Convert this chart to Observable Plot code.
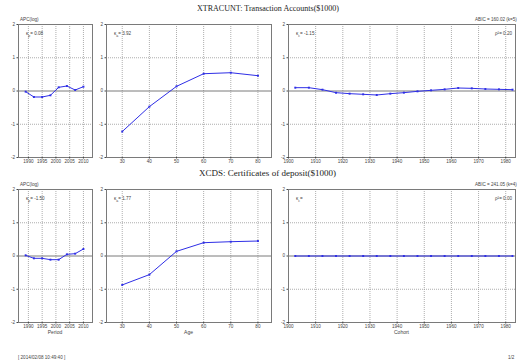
<!DOCTYPE html>
<html>
<head>
<meta charset="utf-8">
<script src="https://cdn.jsdelivr.net/npm/d3@7"></script>
<script src="https://cdn.jsdelivr.net/npm/@observablehq/plot@0.6"></script>
<style>
  html, body { margin: 0; padding: 0; background: #fff; }
  #root { position: relative; width: 517px; height: 364px; overflow: hidden; font-family: "Liberation Sans", Arial, sans-serif; color: #333; }
  .abs { position: absolute; white-space: nowrap; line-height: 1; }
  .title { font-family: "Liberation Serif", "DejaVu Serif", serif; font-size: 9px; color: #222; transform-origin: 0 50%; }
  .small { font-size: 4.6px; color: #444; }
  .lab { font-size: 5px; color: #444; transform: translateX(-50%); }
  .abs svg { display: block; }
</style>
</head>
<body>
<div id="root"></div>
<script>
// ---- data ----
const titles = ["XTRACUNT: Transaction Accounts($1000)", "XCDS: Certificates of deposit($1000)"];
const periods = [1989, 1992, 1995, 1998, 2001, 2004, 2007, 2010];
const ages = [30, 40, 50, 60, 70, 80];
const cohorts = [1902.5, 1907.5, 1912.5, 1917.5, 1922.5, 1927.5, 1932.5, 1937.5, 1942.5, 1947.5, 1952.5, 1957.5, 1962.5, 1967.5, 1972.5, 1977.5, 1982.5];

const periodA = [-0.02, -0.18, -0.18, -0.13, 0.11, 0.15, 0.03, 0.13];
const ageA = [-1.22, -0.47, 0.14, 0.52, 0.55, 0.46];
const cohortA = [0.10, 0.10, 0.04, -0.05, -0.08, -0.10, -0.12, -0.08, -0.05, -0.01, 0.02, 0.05, 0.09, 0.08, 0.06, 0.05, 0.04];

const periodB = [0.02, -0.07, -0.07, -0.11, -0.11, 0.05, 0.07, 0.21];
const ageB = [-0.87, -0.56, 0.14, 0.40, 0.43, 0.45];
const cohortB = [0, 0, 0, 0, 0, 0, 0, 0, 0, 0, 0, 0, 0, 0, 0, 0, 0];

const periodTicks = [1990, 1995, 2000, 2005, 2010];
const ageTicks = [30, 40, 50, 60, 70, 80];
const cohortTicks = [1900, 1910, 1920, 1930, 1940, 1950, 1960, 1970, 1980];
const yTicks = [-2, -1, 0, 1, 2];

const kappaA = ["κ_p = 0.08", "κ_a = 3.92", "κ_c = -1.15"];
const kappaB = ["κ_p = -1.50", "κ_a = 1.77", "κ_c ="];
const abic = ["ABIC = 160.02 (k=5)", "ABIC = 241.05 (k=4)"];
const rho = ["ρ²= 0.20", "ρ²= 0.00"];
const xLabels = ["Period", "Age", "Cohort"];

// ---- layout ----
const root = document.getElementById("root");
const BLUE = "#2f2fe6";
const frames = [ {l: 18, r: 92}, {l: 106, r: 271}, {l: 288, r: 515} ];
const rowsY = [ {t: 24, b: 157}, {t: 189, b: 322} ];
const domains = [ [1986.4, 2013.3], [24.2, 85.0], [1900, 1983.6] ];
const xTickSets = [periodTicks, ageTicks, cohortTicks];
const titleSpan = [ [197, 339], [199, 336] ];

function put(cls, text, x, y) {
  const d = document.createElement("div");
  d.className = "abs " + cls;
  d.textContent = text;
  d.style.left = x + "px";
  d.style.top = y + "px";
  root.appendChild(d);
  return d;
}

function kappa(text, x, y) {
  const m = text.match(/^κ_(\w)\s*(.*)$/);
  const d = document.createElement("div");
  d.className = "abs small";
  d.style.left = x + "px";
  d.style.top = y + "px";
  d.innerHTML = "κ<sub style='font-size:3.5px'>" + m[1] + "</sub>" + m[2].replace("=", "= ");
  root.appendChild(d);
}

function panel(xs, ys, fr, row, domain, ticks) {
  const mL = 14, mR = 2, mT = 2, mB = 12;
  const w = fr.r - fr.l, h = row.b - row.t;
  const data = xs.map((x, i) => ({x, y: ys[i]}));
  const grid = ticks.filter(t => t > domain[0] + 0.5 && t < domain[1] - 0.5);
  const chart = Plot.plot({
    width: w + mL + mR,
    height: h + mT + mB,
    marginLeft: mL, marginRight: mR, marginTop: mT, marginBottom: mB,
    style: {fontSize: "4.6px", fontFamily: "Liberation Sans, sans-serif", background: "transparent", color: "#444", overflow: "visible"},
    x: {domain, label: null},
    y: {domain: [-2, 2], label: null},
    marks: [
      Plot.gridX(grid, {stroke: "#999", strokeOpacity: 1, strokeWidth: 0.8, strokeDasharray: "1,1"}),
      Plot.gridY([-1, 1], {stroke: "#999", strokeOpacity: 1, strokeWidth: 0.8, strokeDasharray: "1,1"}),
      Plot.ruleY([0], {stroke: "#7a7a7a", strokeWidth: 1}),
      Plot.frame({stroke: "#7a7a7a", strokeWidth: 1}),
      Plot.axisX(ticks, {tickSize: 1.5, tickPadding: 1, fontSize: 4.6, label: null, tickFormat: d => String(d)}),
      Plot.axisY(yTicks, {tickSize: 1.5, tickPadding: 2, fontSize: 4.6, label: null, tickFormat: d => String(d)}),
      Plot.line(data, {x: "x", y: "y", stroke: BLUE, strokeWidth: 1}),
      Plot.dot(data, {x: "x", y: "y", symbol: "square", r: 1.1, fill: BLUE, stroke: "none"})
    ]
  });
  const wrap = document.createElement("div");
  wrap.className = "abs";
  wrap.style.left = (fr.l - mL) + "px";
  wrap.style.top = (row.t - mT) + "px";
  wrap.appendChild(chart);
  root.appendChild(wrap);
}

const seriesRows = [ [periodA, ageA, cohortA], [periodB, ageB, cohortB] ];
const xsAll = [periods, ages, cohorts];
const kappas = [kappaA, kappaB];

rowsY.forEach((row, r) => {
  const t = put("title", titles[r], titleSpan[r][0], row.t - 20);
  const wNat = t.getBoundingClientRect().width;
  t.style.transform = "scaleX(" + ((titleSpan[r][1] - titleSpan[r][0]) / wNat) + ")";
  put("small", "APC(log)", 20, row.t - 6);
  put("small", abic[r], 475, row.t - 6);
  for (let c = 0; c < 3; c++) {
    panel(xsAll[c], seriesRows[r][c], frames[c], row, domains[c], xTickSets[c]);
    kappa(kappas[r][c], frames[c].l + 8, row.t + 8);
  }
  put("small", rho[r], 495, row.t + 8);
});

xLabels.forEach((lab, c) => {
  put("lab", lab, (frames[c].l + frames[c].r) / 2, 330);
});

put("small", "[ 2014/02/08 10:49:40 ]", 18, 356);
put("small", "1/2", 508, 356);
</script>
</body>
</html>
